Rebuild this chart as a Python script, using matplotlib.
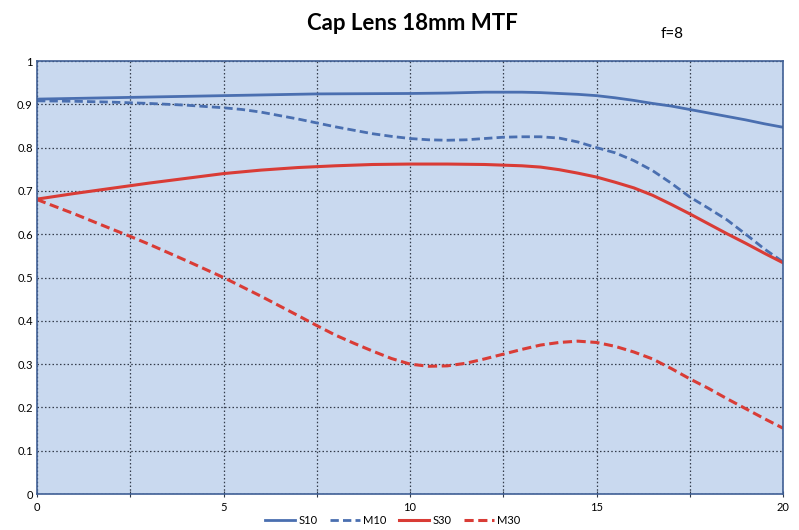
import matplotlib
matplotlib.use("Agg")
import matplotlib.pyplot as plt
from matplotlib.ticker import MultipleLocator, FuncFormatter

# Data
s10_x = [0, 2.5, 5, 7.5, 10, 11, 12, 13, 13.5, 14, 14.5, 15, 15.5, 16, 16.5, 17, 17.5, 18, 18.5, 19, 19.5, 20]
s10_y = [0.912, 0.916, 0.920, 0.924, 0.925, 0.926, 0.928, 0.928, 0.927, 0.925, 0.923, 0.920, 0.915,
         0.909, 0.902, 0.896, 0.888, 0.880, 0.872, 0.864, 0.855, 0.847]

m10_x = [0, 1, 2, 3, 4, 5, 5.5, 6, 6.5, 7, 7.5, 8, 8.5, 9, 9.5, 10, 10.5, 11, 11.5, 12, 12.5, 13,
         13.5, 14, 14.5, 15, 15.5, 16, 16.5, 17, 17.5, 18, 18.5, 19, 19.5, 20]
m10_y = [0.908, 0.907, 0.905, 0.902, 0.898, 0.892, 0.888, 0.882, 0.874, 0.866, 0.857, 0.848, 0.840,
         0.832, 0.826, 0.821, 0.818, 0.817, 0.818, 0.821, 0.824, 0.825, 0.825, 0.822, 0.813, 0.800,
         0.788, 0.770, 0.747, 0.718, 0.686, 0.660, 0.633, 0.600, 0.566, 0.536]

s30_x = [0, 1, 2, 3, 4, 5, 6, 7, 8, 9, 10, 11, 12, 13, 13.5, 14, 14.5, 15, 15.5, 16, 16.5, 17,
         17.5, 18, 18.5, 19, 19.5, 20]
s30_y = [0.681, 0.694, 0.706, 0.718, 0.729, 0.740, 0.748, 0.754, 0.758, 0.761, 0.762, 0.762, 0.761,
         0.758, 0.755, 0.749, 0.741, 0.732, 0.720, 0.707, 0.690, 0.669, 0.647, 0.624, 0.601, 0.579,
         0.556, 0.534]

m30_x = [0, 1, 2, 2.5, 3, 4, 5, 6, 7, 7.5, 8, 8.5, 9, 9.5, 10, 10.5, 11, 11.5, 12, 12.5, 13, 13.5,
         14, 14.5, 15, 15.5, 16, 16.5, 17, 17.5, 18, 18.5, 19, 19.5, 20]
m30_y = [0.680, 0.647, 0.612, 0.595, 0.577, 0.539, 0.500, 0.457, 0.412, 0.389, 0.367, 0.348, 0.330,
         0.313, 0.300, 0.295, 0.296, 0.302, 0.312, 0.323, 0.334, 0.344, 0.350, 0.353, 0.350, 0.341,
         0.328, 0.312, 0.290, 0.266, 0.244, 0.220, 0.197, 0.174, 0.152]

title = "Cap Lens 18mm MTF"
note = "f=8"

BLUE = "#4A6FB0"
RED = "#D93C36"
BG = "#C9D9EF"

plt.rcParams['font.family'] = ['Lato', 'DejaVu Sans']

fig = plt.figure(figsize=(7.99, 5.30), dpi=100)
ax = fig.add_axes([0.0463, 0.0679, 0.9337, 0.817])
ax.set_facecolor(BG)

ax.plot(s10_x, s10_y, color=BLUE, lw=2.0, label="S10")
ax.plot(m10_x, m10_y, color=BLUE, lw=2.0, ls=(0, (3, 1.5)), label="M10")
ax.plot(s30_x, s30_y, color=RED, lw=2.2, label="S30")
ax.plot(m30_x, m30_y, color=RED, lw=2.2, ls=(0, (3, 1.5)), label="M30")

ax.set_xlim(0, 20)
ax.set_ylim(0, 1)
ax.xaxis.set_major_locator(MultipleLocator(2.5))
ax.yaxis.set_major_locator(MultipleLocator(0.1))
ax.xaxis.set_major_formatter(FuncFormatter(lambda v, p: f"{int(v)}" if abs(v % 5) < 1e-6 else ""))
ax.yaxis.set_major_formatter(FuncFormatter(lambda v, p: f"{v:.1f}".rstrip('0').rstrip('.') if v > 1e-9 else "0"))
ax.grid(True, color="#333B4A", ls=(0, (1.2, 1.8)), lw=0.9)
ax.set_axisbelow(True)
ax.tick_params(axis='both', labelsize=8, length=3, color="#333B4A", pad=3)
ax.tick_params(axis='x', direction='inout', length=5)
ax.tick_params(axis='y', length=0)
for s in ax.spines.values():
    s.set_color("#3F5F95")
    s.set_linewidth(1.2)

fig.text(0.516, 0.955, title, ha='center', va='center', fontsize=16, fontweight='bold')
fig.text(0.841, 0.935, note, ha='center', va='center', fontsize=11)

leg = ax.legend(loc='center', bbox_to_anchor=(0.477, -0.062), ncol=4, frameon=False,
                fontsize=8, handlelength=2.7, handletextpad=0.3, columnspacing=1.1)

fig.savefig("out.png", dpi=100)
